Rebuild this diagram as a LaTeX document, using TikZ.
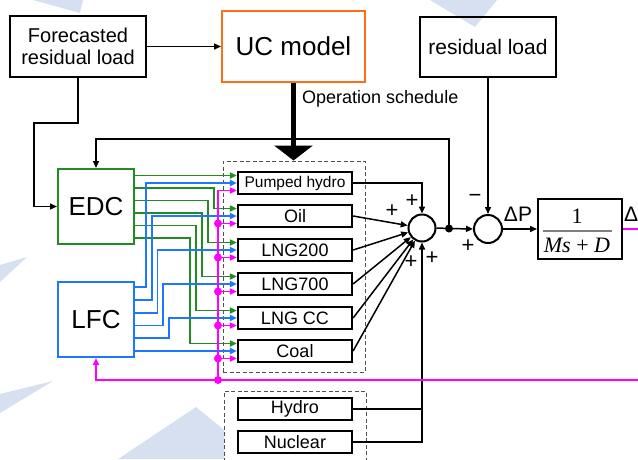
\documentclass[tikz,border=0pt]{standalone}
\usepackage{fontspec}
\setmainfont{Liberation Sans}
\newfontfamily\tnr{Liberation Serif}
\usetikzlibrary{arrows.meta,calc}
\definecolor{edcg}{RGB}{34,139,34}
\definecolor{lfcb}{RGB}{30,120,255}
\definecolor{mag}{RGB}{255,0,255}
\definecolor{ucor}{RGB}{255,110,20}
\definecolor{deco}{RGB}{214,224,240}
\definecolor{dgray}{RGB}{80,80,80}
\begin{document}
\begin{tikzpicture}[x=1pt,y=-1pt,
  box/.style={draw, line width=2pt, inner sep=0pt, align=center},
  gen/.style={draw, line width=2.2pt, minimum width=114pt, minimum height=22pt, inner sep=0pt, font=\fontsize{18}{18}\selectfont},
  tip/.tip={Triangle[length=7pt,width=6pt]},
  arr/.style={line width=1.5pt, -tip},
  ln/.style={line width=1.5pt},
  garr/.style={draw=edcg, line width=1.8pt, -tip},
  barr/.style={draw=lfcb, line width=1.8pt, -tip},
  marr/.style={draw=mag, line width=1.8pt, -tip},
  mline/.style={draw=mag, line width=1.8pt},
  dot/.style={circle, fill, inner sep=0pt, minimum size=8pt},
  mdot/.style={circle, fill=mag, inner sep=0pt, minimum size=8pt},
  sumc/.style={circle, draw, line width=2pt, inner sep=0pt},
  dbox/.style={draw=dgray, line width=1pt, dash pattern=on 4pt off 2.5pt, inner sep=0pt},
  sign/.style={font=\fontsize{22}{22}\selectfont, inner sep=0pt}
]
\useasboundingbox (0,0) rectangle (638,459);
% background decoration
\fill[deco] (33,0) -- (83,0) -- (80,13) -- cycle;
\fill[deco] (430,0) -- (497,0) -- (475,27) -- cycle;
\fill[deco] (0,265) -- (27,257) -- (0,282) -- cycle;
\fill[deco] (0,394) -- (53,381) -- (0,413) -- cycle;
\fill[deco] (196,407) -- (118,459) -- (260,459) -- cycle;

% top boxes
\node[box, minimum width=136pt, minimum height=61pt, font=\fontsize{20}{22}\selectfont] (frl) at (78,46.5) {Forecasted\\residual load};
\node[box, draw=ucor, minimum width=143pt, minimum height=71pt, font=\fontsize{26}{26}\selectfont] (uc) at (293.5,46.5) {UC model};
\node[box, minimum width=136pt, minimum height=60pt, font=\fontsize{21}{21}\selectfont] (rl) at (488,47) {residual load};
\node[font=\fontsize{18}{18}\selectfont, anchor=west, inner sep=0pt] (ops) at (302,99) {Operation schedule};

% controllers
\node[box, draw=edcg, minimum width=76pt, minimum height=75pt, font=\fontsize{26}{26}\selectfont] (edc) at (96,206.5) {EDC};
\node[box, draw=lfcb, minimum width=76pt, minimum height=75pt, font=\fontsize{26}{26}\selectfont] (lfc) at (96,319.5) {LFC};

% dashed groups
\node[dbox, minimum width=142pt, minimum height=211pt] (gbox) at (294,266.5) {};
\node[dbox, fill=white, minimum width=142pt, minimum height=78pt] (hbox) at (295,430) {};

% generators
\node[gen, font=\fontsize{15.5}{15.5}\selectfont] (g1) at (295,183) {Pumped hydro};
\node[gen] (g2) at (295,216) {Oil};
\node[gen] (g3) at (295,250) {LNG200};
\node[gen] (g4) at (295,284) {LNG700};
\node[gen] (g5) at (295,318) {LNG CC};
\node[gen] (g6) at (295,351) {Coal};
\node[gen] (hy) at (295,409) {Hydro};
\node[gen] (nu) at (295,442) {Nuclear};

% summing points and plant
\node[sumc, minimum size=27pt] (s1) at (422,228) {};
\node[sumc, minimum size=28pt] (s2) at (488,229) {};
\node[dot] (jd) at (449,228.5) {};
\node[box, minimum width=84pt, minimum height=60pt] (tf) at (580,229) {};
\node[font=\tnr\fontsize{22}{22}\selectfont, inner sep=0pt] (num) at (577,216) {1};
\node[font=\tnr\fontsize{22}{22}\selectfont, inner sep=0pt] (den) at (577,245) {\textit{Ms} + \textit{D}};
\draw[gray, line width=2.5pt] (tf.west -| 543,0) ++(0,2) -- ++(69,0);

% labels
\node[sign] (p1) at (412,201) {+};
\node[sign] (p2) at (392,211) {+};
\node[sign] (p3) at (411,262) {+};
\node[sign] (p4) at (432,258) {+};
\node[sign] (m1) at (475,198) {−};
\node[sign] (p5) at (468,246) {+};
\node[font=\fontsize{21}{21}\selectfont, inner sep=0pt] (dp) at (518,214) {ΔP};
\node[font=\fontsize{21}{21}\selectfont, inner sep=0pt, anchor=west] (df) at (624,214) {Δ};

% black connectors
\draw[arr] (frl) -- (uc);
\draw[arr] (frl.south) |- (34,123) |- (edc.west);
\draw[line width=4.5pt, -{Triangle[length=15pt,width=38pt]}] (uc.south) -- (gbox.north -| uc.south);
\draw[arr] (jd.center) -- (jd |- 0,139) -| (edc.north);
\draw[arr] (rl.south) -- (s2.north);
\draw[ln] (s1.east) -- (jd.center);
\draw[arr] (jd.center) -- (s2.west);
\draw[arr] (s2.east) -- (tf.west);
\draw[arr] (g1.east) -| (s1.north);
\draw[arr] (g2.east) -- (s1);
\draw[arr] (g3.east) -- (s1);
\draw[arr] (g4.east) -- (s1);
\draw[arr] (g5.east) -- (s1);
\draw[arr] (g6.east) -- (s1);
\draw[ln] (hy.east) -- (hy.east -| s1.south);
\draw[arr] (nu.east) -| (s1.south);

% green EDC signals
\coordinate (gt1) at ($(g1.west)+(0,-7.5)$);
\coordinate (gt2) at ($(g2.west)+(0,-7.5)$);
\coordinate (gt3) at ($(g3.west)+(0,-7.5)$);
\coordinate (gt4) at ($(g4.west)+(0,-7.5)$);
\coordinate (gt5) at ($(g5.west)+(0,-7.5)$);
\coordinate (gt6) at ($(g6.west)+(0,-7.5)$);
\draw[garr] (edc.east |- gt1) -- (gt1);
\draw[garr] (edc.east |- 0,188) -- (214,188) |- (gt2);
\draw[garr] (edc.east |- 0,200.5) -- (208,200.5) |- (gt3);
\draw[garr] (edc.east |- 0,213) -- (202,213) |- (gt4);
\draw[garr] (edc.east |- 0,225.5) -- (196,225.5) |- (gt5);
\draw[garr] (edc.east |- 0,238) -- (190,238) |- (gt6);

% blue LFC signals
\draw[barr] (lfc.east |- 0,287) -- (146,287) |- (g1.west);
\draw[barr] (lfc.east |- 0,300) -- (152,300) |- (g2.west);
\draw[barr] (lfc.east |- 0,313) -- (157.5,313) |- (g3.west);
\draw[barr] (lfc.east |- 0,325.5) -- (163,325.5) |- (g4.west);
\draw[barr] (lfc.east |- 0,338) -- (169,338) |- (g5.west);
\draw[barr] (lfc.east |- g6.west) -- (g6.west);

% magenta frequency signals
\coordinate (mr) at (645,380);
\draw[mline] (tf.east) -- (645,229);
\draw[marr] (mr) -| (lfc.south);
\node[mdot] (m0) at (218,380) {};
\draw[marr] (m0.center) |- ($(g1.west)+(0,7.5)$);
\node[mdot] (m2) at (218,223.5) {};
\node[mdot] (m3) at (218,257.5) {};
\node[mdot] (m4) at (218,291.5) {};
\node[mdot] (m5) at (218,325.5) {};
\node[mdot] (m6) at (218,358.5) {};
\draw[marr] (m2.center) -- (m2.center -| g2.west);
\draw[marr] (m3.center) -- (m3.center -| g3.west);
\draw[marr] (m4.center) -- (m4.center -| g4.west);
\draw[marr] (m5.center) -- (m5.center -| g5.west);
\draw[marr] (m6.center) -- (m6.center -| g6.west);
\end{tikzpicture}
\end{document}
